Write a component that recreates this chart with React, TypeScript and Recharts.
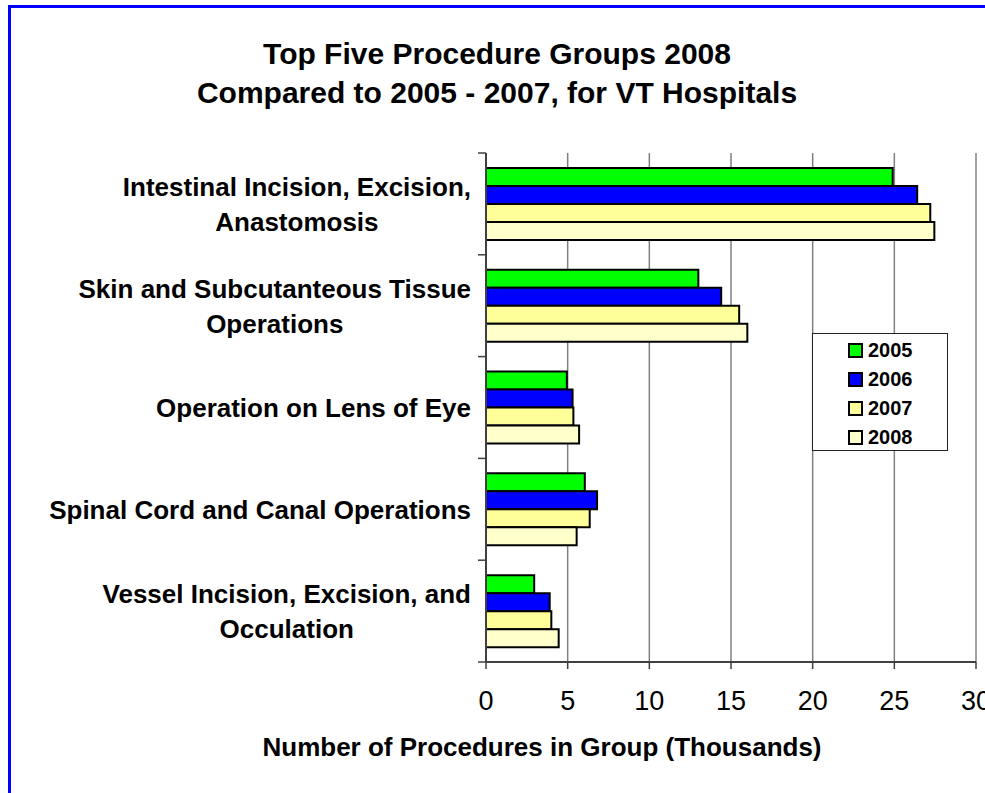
import { BarChart, Bar, XAxis, YAxis, CartesianGrid } from 'recharts'

const categories = [
  'Intestinal Incision, Excision,\nAnastomosis',
  'Skin and Subcutanteous Tissue\nOperations',
  'Operation on Lens of Eye',
  'Spinal Cord and Canal Operations',
  'Vessel Incision, Excision, and\nOcculation',
]
const v2005 = [24.9, 13.0, 4.95, 6.05, 2.95]
const v2006 = [26.4, 14.4, 5.3, 6.8, 3.9]
const v2007 = [27.2, 15.5, 5.35, 6.35, 4.0]
const v2008 = [27.45, 16.0, 5.7, 5.55, 4.45]
const xTicks = [0, 5, 10, 15, 20, 25, 30]

const series = [
  { key: '2005', fill: '#00ff00' },
  { key: '2006', fill: '#0000ff' },
  { key: '2007', fill: '#ffff99' },
  { key: '2008', fill: '#ffffcc' },
]

const data = categories.map((name, i) => ({
  name,
  '2005': v2005[i],
  '2006': v2006[i],
  '2007': v2007[i],
  '2008': v2008[i],
}))

const FONT = "'Liberation Sans', Arial, Helvetica, sans-serif"
const W = 985
const H = 793
const PLOT_LEFT = 486
const PLOT_RIGHT = 976
const PLOT_TOP = 153
const PLOT_BOTTOM = 662
const Y_W = 476
const X_H = 60
const BAND = (PLOT_BOTTOM - PLOT_TOP) / categories.length

let ctx: CanvasRenderingContext2D | null = null
function textWidth(s: string, font: string) {
  if (!ctx) ctx = document.createElement('canvas').getContext('2d')
  if (!ctx) return s.length * 14
  ctx.font = font
  return ctx.measureText(s).width
}

const CategoryTick = ({ y, payload, index }: any) => {
  const lines: string[] = String(payload.value).split('\n')
  const fs = 26
  const lh = 35
  const widest = Math.max(...lines.map(l => textWidth(l, `bold ${fs}px ${FONT}`)))
  const cx = PLOT_LEFT - 15 - widest / 2
  const first = y - ((lines.length - 1) * lh) / 2 + fs * 0.358
  return (
    <g>
      <line x1={PLOT_LEFT - 8} x2={PLOT_LEFT} y1={y - BAND / 2} y2={y - BAND / 2} stroke="#404040" strokeWidth={1.5} />
      {index === categories.length - 1 && (
        <line x1={PLOT_LEFT - 8} x2={PLOT_LEFT} y1={y + BAND / 2} y2={y + BAND / 2} stroke="#404040" strokeWidth={1.5} />
      )}
      <text textAnchor="middle" fontFamily={FONT} fontWeight="bold" fontSize={fs} fill="#000">
        {lines.map((l, i) => (
          <tspan key={i} x={cx} y={first + i * lh}>{l}</tspan>
        ))}
      </text>
    </g>
  )
}

const LegendBox = () => (
  <div style={{ position: 'absolute', left: 812, top: 333, width: 136, height: 118, boxSizing: 'border-box', border: '1px solid #222', background: '#fff', paddingTop: 2 }}>
    {series.map(s => (
      <div key={s.key} style={{ display: 'flex', alignItems: 'center', height: 29, paddingLeft: 35 }}>
        <span style={{ width: 15, height: 15, boxSizing: 'border-box', border: '2px solid #000', background: s.fill, marginRight: 5, display: 'inline-block' }} />
        <span style={{ fontFamily: FONT, fontWeight: 'bold', fontSize: 20, color: '#000', lineHeight: '29px' }}>{s.key}</span>
      </div>
    ))}
  </div>
)

export default function App() {
  return (
    <div style={{ position: 'absolute', left: 0, top: 0, width: W, height: H, overflow: 'hidden', background: '#fff' }}>
      {/* blue frame, only top and left edges are in view */}
      <div style={{ position: 'absolute', left: 8, top: 5, width: W + 20, height: H + 20, borderTop: '3px solid #0000ff', borderLeft: '3px solid #0000ff' }} />

      <div style={{ position: 'absolute', left: 97, top: 35, width: 800, textAlign: 'center', fontFamily: FONT, fontWeight: 'bold', fontSize: 30, lineHeight: '38.5px', color: '#000' }}>
        Top Five Procedure Groups 2008<br />Compared to 2005 - 2007, for VT Hospitals
      </div>

      <div style={{ position: 'absolute', left: 0, top: 0 }}>
        <BarChart
          width={W}
          height={H}
          data={data}
          layout="vertical"
          margin={{ top: PLOT_TOP, right: W - PLOT_RIGHT, bottom: H - PLOT_BOTTOM - X_H, left: PLOT_LEFT - Y_W }}
          barCategoryGap="14.7%"
          barGap={0}
        >
          <CartesianGrid horizontal={false} vertical stroke="#808080" strokeWidth={1.5} />
          <XAxis
            xAxisId="top"
            orientation="top"
            type="number"
            domain={[0, 30]}
            height={0}
            tick={false}
            tickLine={false}
            axisLine={{ stroke: '#808080', strokeWidth: 1.5 }}
          />
          <XAxis
            type="number"
            domain={[0, 30]}
            ticks={xTicks}
            interval={0}
            height={X_H}
            tickSize={7}
            tickMargin={22}
            tickLine={{ stroke: '#404040', strokeWidth: 1.5 }}
            axisLine={{ stroke: '#404040', strokeWidth: 2 }}
            tick={{ fontSize: 27, fill: '#000', fontFamily: FONT }}
          />
          <YAxis
            type="category"
            dataKey="name"
            width={Y_W}
            tickLine={false}
            axisLine={{ stroke: '#404040', strokeWidth: 2 }}
            tick={<CategoryTick />}
            interval={0}
          />
          {series.map(s => (
            <Bar key={s.key} dataKey={s.key} fill={s.fill} stroke="#000" strokeWidth={2} isAnimationActive={false} />
          ))}
        </BarChart>
      </div>

      <LegendBox />

      <div style={{ position: 'absolute', left: 142, top: 734, width: 800, textAlign: 'center', fontFamily: FONT, fontWeight: 'bold', fontSize: 26, lineHeight: '26px', color: '#000' }}>
        Number of Procedures in Group (Thousands)
      </div>
    </div>
  )
}
